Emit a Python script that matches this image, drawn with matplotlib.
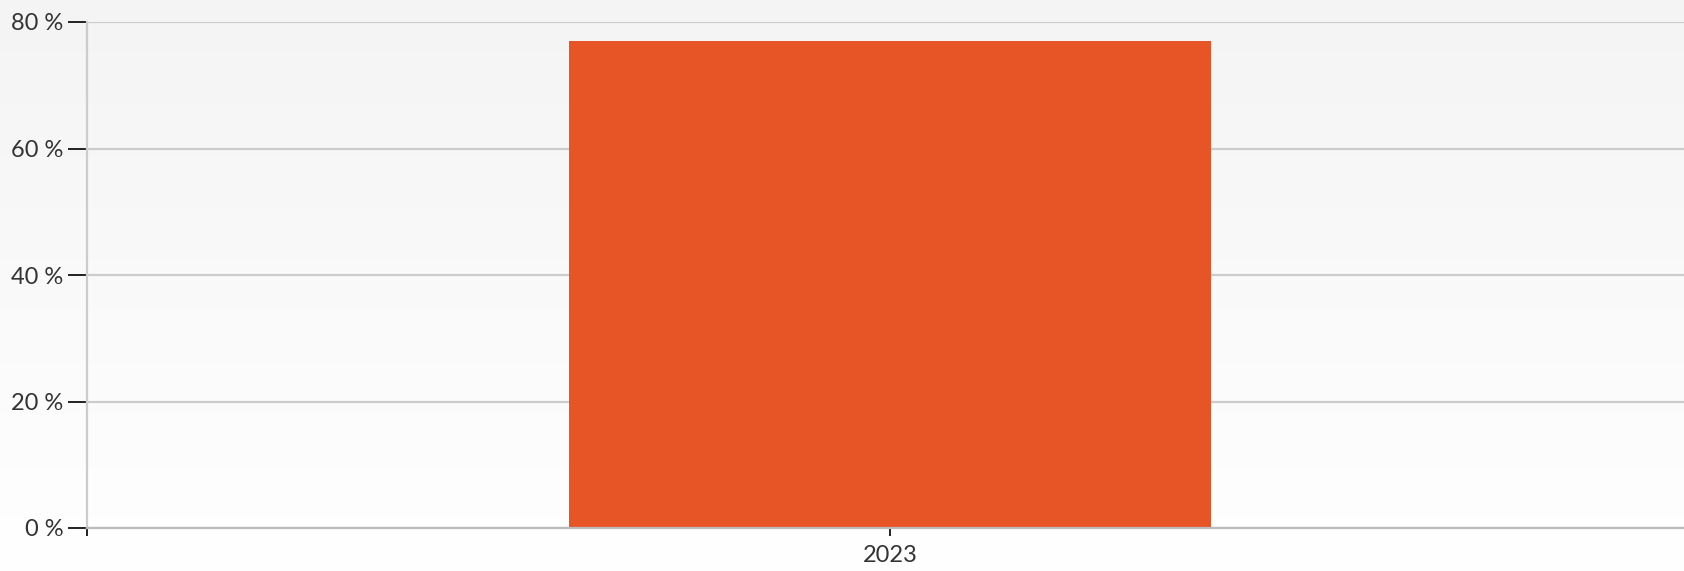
import numpy as np
import matplotlib
matplotlib.use("Agg")
import matplotlib.pyplot as plt
from matplotlib.ticker import FixedLocator

categories = ["2023"]
values = [77.0]
y_ticks = [0, 20, 40, 60, 80]
y_labels = ["0 %", "20 %", "40 %", "60 %", "80 %"]

plt.rcParams["font.family"] = ["Lato", "DejaVu Sans"]

W, H = 1684, 571
fig = plt.figure(figsize=(W / 100, H / 100), dpi=100)
fig.patch.set_facecolor("white")

# soft vertical gradient behind the whole chart
bg = fig.add_axes([0, 0, 1, 1], zorder=0)
grad = np.linspace(0, 1, 256).reshape(-1, 1)
top = np.array([0.957, 0.957, 0.957])
bot = np.array([1.0, 1.0, 1.0])
img = top + (bot - top) * grad[..., None]
img = np.clip(img, 0, 1)
bg.imshow(img, aspect="auto", extent=[0, 1, 0, 1], origin="upper")
bg.axis("off")

# plot area runs a little past the right edge of the figure
left = 87 / W
right = 1693 / W
bottom = (H - 528) / H
top_y = (H - 22) / H
ax = fig.add_axes([left, bottom, right - left, top_y - bottom], zorder=1)
ax.patch.set_alpha(0)

x = np.arange(len(categories))
ax.bar(x, values, width=0.4, color="#E75426", linewidth=0, zorder=3)

ax.set_xlim(-0.5, 0.5)
ax.set_ylim(0, 80)
ax.set_yticks(y_ticks)
ax.set_yticklabels(y_labels)
ax.set_xticks(x)
ax.set_xticklabels(categories)
ax.xaxis.set_minor_locator(FixedLocator([-0.5]))

ax.grid(axis="y", color="#cccccc", linewidth=1.6, zorder=0)
for s in ["top", "right"]:
    ax.spines[s].set_visible(False)
ax.spines["left"].set_color("#cccccc")
ax.spines["left"].set_linewidth(1.6)
ax.spines["bottom"].set_color("#bbbbbb")
ax.spines["bottom"].set_linewidth(1.6)
ax.spines["bottom"].set_zorder(4)

ax.tick_params(axis="y", length=14, width=1.4, color="#222222", pad=3,
               labelsize=17, labelcolor="#333333")
ax.tick_params(axis="x", which="major", length=6, width=1.4, color="#222222",
               pad=6, labelsize=17, labelcolor="#333333")
ax.tick_params(axis="x", which="minor", length=6, width=1.4, color="#222222")

fig.savefig("out.png", dpi=100, facecolor=fig.get_facecolor())
